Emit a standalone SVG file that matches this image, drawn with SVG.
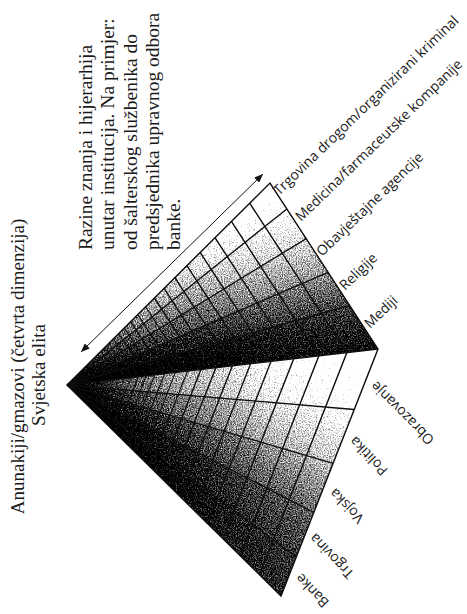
<svg xmlns="http://www.w3.org/2000/svg" width="467" height="614" viewBox="0 0 467 614">
<style>
.serif{font-family:"Liberation Serif","Times New Roman",serif;font-size:19px;fill:#1a1a1a}
.blk{font-family:"Liberation Serif","Times New Roman",serif;font-size:19.5px;fill:#1a1a1a}
.lab{font-family:"Open Sans","Liberation Sans",sans-serif;font-size:14px;fill:#1a1a1a}
.grid{fill:none;stroke:#0d0d0d;stroke-linejoin:miter}
</style>
<defs>
  <linearGradient id="gU1" gradientUnits="userSpaceOnUse" x1="270" y1="183" x2="290.3" y2="205.7"><stop offset="0" stop-color="#f2f2f2"/><stop offset="1" stop-color="#d1d1d1"/></linearGradient>
  <linearGradient id="gU2" gradientUnits="userSpaceOnUse" x1="286.8" y1="208.9" x2="307.2" y2="237.9"><stop offset="0" stop-color="#d1d1d1"/><stop offset="1" stop-color="#b3b3b3"/></linearGradient>
  <linearGradient id="gU3" gradientUnits="userSpaceOnUse" x1="306.2" y1="238.6" x2="324.6" y2="274.1"><stop offset="0" stop-color="#b3b3b3"/><stop offset="1" stop-color="#8c8c8c"/></linearGradient>
  <linearGradient id="gU4" gradientUnits="userSpaceOnUse" x1="328.1" y1="272.3" x2="340.9" y2="308.4"><stop offset="0" stop-color="#8c8c8c"/><stop offset="1" stop-color="#626262"/></linearGradient>
  <linearGradient id="gU5" gradientUnits="userSpaceOnUse" x1="349.6" y1="305.3" x2="358.8" y2="352.7"><stop offset="0" stop-color="#626262"/><stop offset="1" stop-color="#424242"/></linearGradient>
  <linearGradient id="gL1" gradientUnits="userSpaceOnUse" x1="378" y1="349" x2="379.2" y2="409"><stop offset="0" stop-color="#f2f2f2"/><stop offset="1" stop-color="#d1d1d1"/></linearGradient>
  <linearGradient id="gL2" gradientUnits="userSpaceOnUse" x1="354.2" y1="409.5" x2="343.8" y2="465.4"><stop offset="0" stop-color="#d1d1d1"/><stop offset="1" stop-color="#a3a3a3"/></linearGradient>
  <linearGradient id="gL3" gradientUnits="userSpaceOnUse" x1="333.1" y1="463.4" x2="313.4" y2="512.4"><stop offset="0" stop-color="#a3a3a3"/><stop offset="1" stop-color="#757575"/></linearGradient>
  <linearGradient id="gL4" gradientUnits="userSpaceOnUse" x1="313.8" y1="512.5" x2="288.6" y2="552.4"><stop offset="0" stop-color="#757575"/><stop offset="1" stop-color="#5e5e5e"/></linearGradient>
  <linearGradient id="gL5" gradientUnits="userSpaceOnUse" x1="296.2" y1="557.2" x2="270.5" y2="586.9"><stop offset="0" stop-color="#5e5e5e"/><stop offset="1" stop-color="#525252"/></linearGradient>
  <radialGradient id="rad" gradientUnits="userSpaceOnUse" cx="67" cy="385" r="290">
    <stop offset="0" stop-color="#000" stop-opacity="1"/>
    <stop offset="0.05" stop-color="#000" stop-opacity="0.81"/>
    <stop offset="0.12" stop-color="#000" stop-opacity="0.62"/>
    <stop offset="0.2" stop-color="#000" stop-opacity="0.52"/>
    <stop offset="0.3" stop-color="#000" stop-opacity="0.43"/>
    <stop offset="0.4" stop-color="#000" stop-opacity="0.35"/>
    <stop offset="0.53" stop-color="#000" stop-opacity="0.27"/>
    <stop offset="0.73" stop-color="#000" stop-opacity="0.12"/>
    <stop offset="1" stop-color="#000" stop-opacity="0"/>
  </radialGradient>
  <filter id="stip" x="0" y="0" width="1" height="1" color-interpolation-filters="sRGB">
    <feTurbulence type="fractalNoise" baseFrequency="0.85" numOctaves="2" seed="3" result="n"/>
    <feColorMatrix in="n" type="matrix" values="1 0 0 0 0  1 0 0 0 0  1 0 0 0 0  0 0 0 0 1" result="ng"/>
    <feComposite in="SourceGraphic" in2="ng" operator="arithmetic" k1="0" k2="1" k3="0.7" k4="-0.35" result="sum"/>
    <feComponentTransfer in="sum" result="con">
      <feFuncR type="linear" slope="2.2" intercept="-0.6"/>
      <feFuncG type="linear" slope="2.2" intercept="-0.6"/>
      <feFuncB type="linear" slope="2.2" intercept="-0.6"/>
    </feComponentTransfer>
    <feComposite in="con" in2="SourceGraphic" operator="in"/>
  </filter>
  <marker id="ah" viewBox="0 0 10 8" refX="10" refY="4" markerWidth="9" markerHeight="7" orient="auto-start-reverse" markerUnits="userSpaceOnUse">
    <path d="M0,0 L10,4 L0,8 Z" fill="#111"/>
  </marker>
</defs>
<rect width="467" height="614" fill="#fff"/>

<g id="shading" filter="url(#stip)">
  <polygon points="67,385 270,183 286.8,208.9" fill="url(#gU1)"/>
  <polygon points="67,385 286.8,208.9 306.2,238.6" fill="url(#gU2)"/>
  <polygon points="67,385 306.2,238.6 328.1,272.3" fill="url(#gU3)"/>
  <polygon points="67,385 328.1,272.3 349.6,305.3" fill="url(#gU4)"/>
  <polygon points="67,385 349.6,305.3 378,349" fill="url(#gU5)"/>
  <polygon points="67,385 378,349 354.2,409.5" fill="url(#gL1)"/>
  <polygon points="67,385 354.2,409.5 333.1,463.4" fill="url(#gL2)"/>
  <polygon points="67,385 333.1,463.4 313.8,512.5" fill="url(#gL3)"/>
  <polygon points="67,385 313.8,512.5 296.2,557.2" fill="url(#gL4)"/>
  <polygon points="67,385 296.2,557.2 281,596" fill="url(#gL5)"/>
  <polygon points="67,385 270,183 378,349 281,596" fill="url(#rad)"/>
</g>

<g id="connectors">
  <g class="grid" stroke-width="1.3">
    <path d="M67,385 L286.8,208.9 M67,385 L306.2,238.6 M67,385 L328.1,272.3 M67,385 L349.6,305.3"/>
    <path d="M67,385 L354.2,409.5 M67,385 L333.1,463.4 M67,385 L313.8,512.5 M67,385 L296.2,557.2"/>
  </g>
  <g class="grid" stroke-width="1.4">
    <path d="M249.7,203.2 L346.9,352.6 L259.6,574.9"/>
    <path d="M231.4,221.4 L318.9,355.8 L240.3,555.9"/>
    <path d="M215.0,237.7 L293.7,358.8 L223.0,538.8"/>
    <path d="M200.2,252.5 L271.0,361.4 L207.4,523.4"/>
    <path d="M186.9,265.7 L250.6,363.7 L193.4,509.6"/>
    <path d="M174.9,277.7 L232.3,365.9 L180.7,497.1"/>
    <path d="M164.1,288.4 L215.8,367.8 L169.4,485.9"/>
    <path d="M154.4,298.0 L200.9,369.5 L159.1,475.8"/>
  </g>
  <g class="grid" stroke-width="1.1">
    <path d="M145.6,306.7 L187.5,371.1 L149.9,466.7"/>
    <path d="M137.8,314.6 L175.4,372.4 L141.6,458.6"/>
    <path d="M130.7,321.6 L164.6,373.7 L134.2,451.2"/>
    <path d="M124.3,328.0 L154.8,374.8 L127.4,444.6"/>
    <path d="M118.6,333.7 L146.1,375.8 L121.4,438.6"/>
    <path d="M113.4,338.8 L138.2,376.8 L116.0,433.3"/>
  </g>
  <g class="grid" stroke-width="0.8">
    <path d="M108.8,343.4 L131.0,377.6 L111.1,428.4"/>
    <path d="M104.6,347.6 L124.6,378.3 L106.7,424.1"/>
    <path d="M100.9,351.3 L118.9,379.0 L102.7,420.2"/>
    <path d="M97.5,354.7 L113.7,379.6 L99.1,416.7"/>
    <path d="M94.4,357.7 L109.0,380.1 L95.9,413.5"/>
    <path d="M91.7,360.4 L104.8,380.6 L93.0,410.7"/>
  </g>
  <g class="grid" stroke-width="1.4">
    <path d="M67,385 L270,183 L378,349 L281,596 Z"/>
    <path d="M67,385 L378,349"/>
  </g>
  <line id="arrow" x1="81" y1="352" x2="263" y2="174" stroke="#111" stroke-width="1" marker-start="url(#ah)" marker-end="url(#ah)"/>
</g>

<g id="title">
  <text class="serif" text-anchor="middle" transform="translate(24,366.5) rotate(-90)">Anunakiji/gmazovi (četvrta dimenzija)</text>
  <text class="serif" text-anchor="middle" transform="translate(45,375) rotate(-90)">Svjetska elita</text>
</g>

<g id="note">
  <text class="blk" transform="translate(92,250) rotate(-90)">Razine znanja i hijerarhija</text>
  <text class="blk" transform="translate(114,250) rotate(-90)">unutar institucija. Na primjer:</text>
  <text class="blk" transform="translate(136.5,250) rotate(-90)">od šalterskog službenika do</text>
  <text class="blk" transform="translate(158.5,250) rotate(-90)">predsjednika upravnog odbora</text>
  <text class="blk" transform="translate(180,250) rotate(-90)">banke.</text>
</g>

<g id="labels-upper">
  <text class="lab" transform="translate(279,196) rotate(-44)">Trgovina drogom/organizirani kriminal</text>
  <text class="lab" transform="translate(301,222) rotate(-44)">Medicina/farmaceutske kompanije</text>
  <text class="lab" transform="translate(322,257) rotate(-44)">Obavještajne agencije</text>
  <text class="lab" transform="translate(345,291) rotate(-44)">Religije</text>
  <text class="lab" transform="translate(370,329) rotate(-44)">Mediji</text>
</g>

<g id="labels-lower">
  <text class="lab" text-anchor="end" transform="translate(376.5,380.5) rotate(-135)">Obrazovanje</text>
  <text class="lab" text-anchor="end" transform="translate(355.5,435.5) rotate(-134)">Politika</text>
  <text class="lab" text-anchor="end" transform="translate(335.5,487.5) rotate(-134)">Vojska</text>
  <text class="lab" text-anchor="end" transform="translate(315.5,532.5) rotate(-134)">Trgovina</text>
  <text class="lab" text-anchor="end" transform="translate(301.5,572.5) rotate(-134)">Banke</text>
</g>
</svg>
